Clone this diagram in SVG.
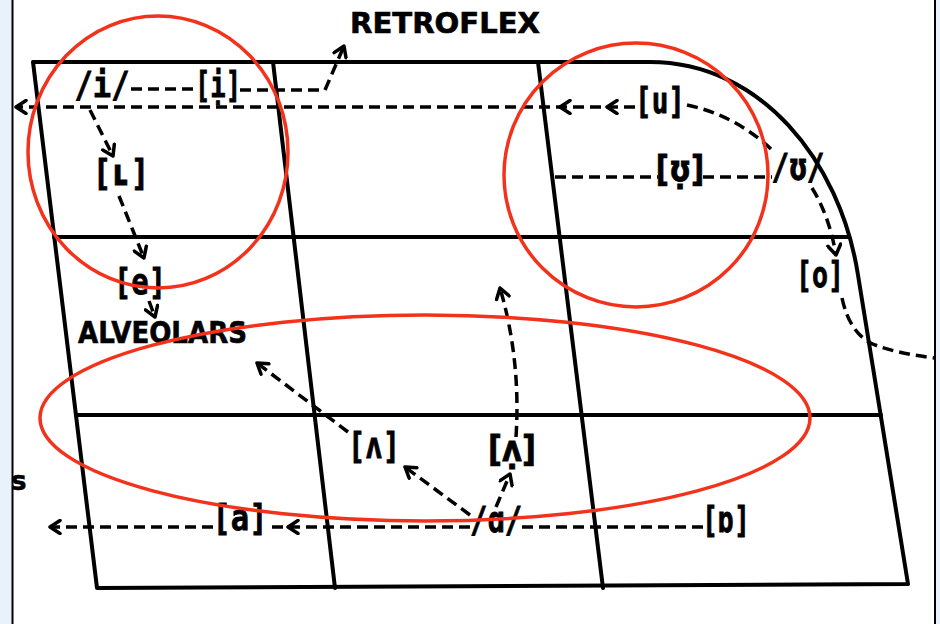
<svg xmlns="http://www.w3.org/2000/svg" width="940" height="624" viewBox="0 0 940 624">
<style>
.grid{fill:none;stroke:#000;stroke-width:4;stroke-linejoin:round;stroke-linecap:round}
.dash{fill:none;stroke:#000;stroke-width:3.5;stroke-dasharray:11 6}
.lbl{font-family:"DejaVu Sans Mono",monospace;font-weight:bold;font-size:36px;fill:#000;stroke:#000;stroke-width:0.8;text-anchor:middle}
.lbp{font-family:"DejaVu Sans","Noto Sans",sans-serif;font-weight:bold;font-size:36px;fill:#000;stroke:#000;stroke-width:0.8;text-anchor:middle}
.cap{font-family:"DejaVu Sans","Liberation Sans",sans-serif;font-weight:bold;fill:#000;stroke:#000;stroke-width:0.6}
.red{fill:none;stroke:#f2321b;stroke-width:3.5}
</style>
<defs>
<marker id="ah" markerWidth="16" markerHeight="16" refX="12" refY="8" orient="auto" markerUnits="userSpaceOnUse">
<path d="M2,1.5 L12,8 L2,14.5" fill="none" stroke="#000" stroke-width="3.5" stroke-linecap="round" stroke-linejoin="round"/>
</marker>
</defs>
<rect x="0" y="0" width="940" height="624" fill="#fff"/>
<rect x="0" y="0" width="12" height="624" fill="#e8f2fc"/>
<rect x="936" y="0" width="4" height="624" fill="#e8f2fc"/>
<line x1="12.5" y1="0" x2="12.5" y2="624" stroke="#000" stroke-width="2"/>
<line x1="935" y1="0" x2="935" y2="624" stroke="#000" stroke-width="2"/>

<g id="chart">
<path class="grid" d="M33,62 L650,62 C760,62 840,160 858,275 L908,584 L97,588 Z"/>
<line class="grid" x1="54" y1="237" x2="848" y2="237"/>
<line class="grid" x1="76" y1="415" x2="881" y2="415"/>
<line class="grid" x1="273" y1="62" x2="335" y2="588"/>
<line class="grid" x1="538" y1="62" x2="603" y2="588"/>
</g>

<g id="connectors">
<polyline class="dash" points="635,107 607,107 560,107 16,107" marker-mid="url(#ah)" marker-end="url(#ah)"/>
<line class="dash" x1="131" y1="89" x2="196" y2="89"/>
<path class="dash" d="M240,90 L325,90 L344,46" marker-end="url(#ah)"/>
<path class="dash" d="M90,110 L113,156" marker-end="url(#ah)"/>
<path class="dash" d="M119,196 L144,258" marker-end="url(#ah)"/>
<path class="dash" d="M149,301 L155,317" marker-end="url(#ah)"/>
<path class="dash" d="M687,105 Q735,115 772,150"/>
<line class="dash" x1="555" y1="177" x2="658" y2="177"/>
<line class="dash" x1="703" y1="177" x2="772" y2="177"/>
<path class="dash" d="M812,188 Q829,215 836,255" marker-end="url(#ah)"/>
<path class="dash" d="M842,298 Q850,335 875,345 Q900,354 935,358"/>
<path class="dash" d="M348,432 L257,363" marker-end="url(#ah)"/>
<path class="dash" d="M470,515 L405,467" marker-end="url(#ah)"/>
<path class="dash" d="M496,507 L510,474" marker-end="url(#ah)"/>
<path class="dash" d="M516,437 Q521,360 500,288" marker-end="url(#ah)"/>
<line class="dash" x1="703" y1="527" x2="522" y2="527"/>
<polyline class="dash" points="470,527 288,527 268,527" marker-mid="url(#ah)"/>
<path class="dash" d="M213,527 L50,527" marker-end="url(#ah)"/>
</g>

<g id="n-retroflex"><text class="cap" x="350" y="33" font-size="28" textLength="190" lengthAdjust="spacingAndGlyphs">RETROFLEX</text></g>
<g id="n-alveolars"><text class="cap" x="78" y="343" font-size="30" textLength="169" lengthAdjust="spacingAndGlyphs">ALVEOLARS</text></g>
<g id="n-s"><text class="cap" x="11" y="490" font-size="26">s</text></g>
<g id="n-i"><text class="lbl" x="102" y="97" textLength="55" lengthAdjust="spacingAndGlyphs">/i/</text></g>
<g id="n-i-dev"><text class="lbl" transform="translate(218,97) scale(0.71,1)" x="0" y="0">[ị]</text></g>
<g id="n-L"><text class="lbl" x="121" y="185" textLength="57" lengthAdjust="spacingAndGlyphs">[ʟ]</text></g>
<g id="n-e"><text class="lbl" x="140" y="294" textLength="52" lengthAdjust="spacingAndGlyphs">[e]</text></g>
<g id="n-u"><text class="lbl" x="660" y="113" textLength="50" lengthAdjust="spacingAndGlyphs">[u]</text></g>
<g id="n-U-dev"><text class="lbp" transform="translate(680,181) scale(0.8,1)" x="0" y="0">[ʊ̣]</text></g>
<g id="n-U"><text class="lbl" x="798" y="179" textLength="53" lengthAdjust="spacingAndGlyphs">/ʊ/</text></g>
<g id="n-o"><text class="lbl" x="820" y="287" textLength="48" lengthAdjust="spacingAndGlyphs">[o]</text></g>
<g id="n-V"><text class="lbl" x="374" y="458" textLength="52" lengthAdjust="spacingAndGlyphs">[ʌ]</text></g>
<g id="n-V-dev"><text class="lbp" transform="translate(512,461) scale(0.85,1)" x="0" y="0">[ʌ̣]</text></g>
<g id="n-A"><text class="lbl" x="496" y="532" textLength="52" lengthAdjust="spacingAndGlyphs">/ɑ/</text></g>
<g id="n-O"><text class="lbl" x="726" y="532" textLength="48" lengthAdjust="spacingAndGlyphs">[ɒ]</text></g>
<g id="n-a"><text class="lbl" x="240" y="530" textLength="55" lengthAdjust="spacingAndGlyphs">[a]</text></g>

<g id="highlights">
<ellipse class="red" cx="158" cy="152" rx="130" ry="136"/>
<ellipse class="red" cx="636" cy="175" rx="132" ry="132"/>
<ellipse class="red" cx="425" cy="418" rx="385" ry="103"/>
</g>
</svg>
